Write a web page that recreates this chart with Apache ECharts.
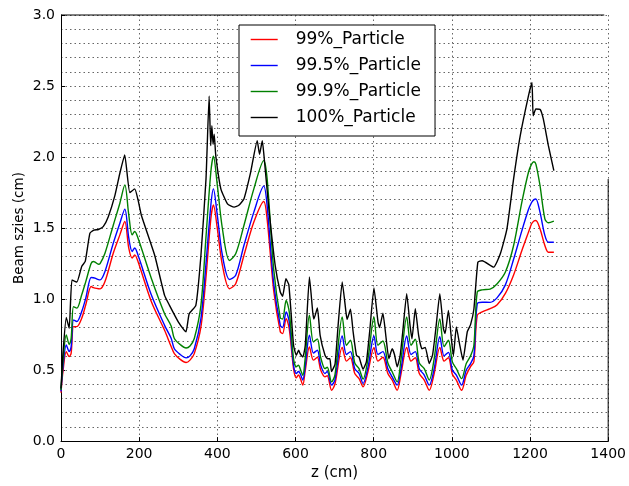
<!DOCTYPE html>
<html>
<head>
<meta charset="utf-8">
<script src="https://cdn.jsdelivr.net/npm/echarts@6/dist/echarts.min.js"></script>
<style>
html,body{margin:0;padding:0;background:#fff;}
#c{width:629px;height:486px;}
</style>
</head>
<body>
<div id="c"></div>
<script>
// z positions (cm) for the 100% curve
const zBlack = [0,5,13.5,21,28,40.6,53,62,74,84,95.6,108,121,138,150.6,163,176,188.7,197,205.6,239.5,265,277.6,300,315.6,320,328,345,358,371,379,383,386,389,392,396,409,426,443,455,468,485,502,508,515,519,531,548,561,567,575.5,583,595,602,608,612,619,625,635.6,644,647,656,663,675.5,682,688,692,701,709,719.5,729,732,740.6,747.4,756,762.6,772.8,781.3,789.7,800.7,811,815,823.6,832,838.8,847.3,853.2,860,867.6,874.4,884.5,893,898,906.5,915,923.5,931.9,942.1,950.6,959,969.2,978.5,982.7,991.2,999.6,1003.9,1011.5,1020,1028.4,1039.5,1047.9,1056.4,1066.6,1077.6,1107,1124,1141,1158,1175,1196,1205,1208,1215,1226,1234,1247,1261];
const black = [0.37,0.62,0.87,0.795,1.135,1.12,1.23,1.265,1.464,1.485,1.49,1.51,1.58,1.73,1.886,2.015,1.75,1.776,1.70,1.59,1.31,1.026,0.956,0.84,0.78,0.77,0.897,0.956,1.307,1.846,2.43,2.08,2.22,2.09,2.16,2.01,1.776,1.67,1.647,1.66,1.705,1.89,2.115,2.02,2.115,2.02,1.66,1.237,1.05,1.02,1.143,1.1,0.675,0.604,0.64,0.615,0.593,0.675,1.155,0.91,0.86,0.937,0.745,0.604,0.58,0.58,0.49,0.54,0.815,1.12,0.91,0.857,0.928,0.77,0.604,0.59,0.506,0.557,0.77,1.078,0.84,0.80,0.9,0.72,0.58,0.65,0.61,0.523,0.6,0.77,1.038,0.815,0.72,0.933,0.745,0.65,0.66,0.546,0.605,0.79,1.038,0.79,0.757,0.92,0.698,0.6,0.804,0.68,0.57,0.77,0.82,0.93,1.26,1.27,1.225,1.319,1.495,1.846,2.15,2.43,2.525,2.29,2.338,2.335,2.268,2.08,1.904];

// z positions (cm) shared by the 99%, 99.5% and 99.9% curves
const zBand = [0,5,13.5,21,26,32,40.6,53,63.4,77,83,87,96,100,112.5,133.7,150.6,163.3,173.4,182,188.7,197,231,265,281.8,290,305,320,330,341,358,370.6,383.3,390,400,413,431,447,468,493.4,518.8,527.3,544.2,561.1,567,576,584,595,601.8,607.7,611.9,618.7,624.6,635.6,645.8,655.9,664.4,675.4,681.3,692.3,700.8,719.5,730.4,740.6,751.6,762.6,772.8,785.5,800.7,810.9,823.6,836.3,847.3,860,870.1,884.5,895.5,906.5,916.7,929.4,942.1,954.8,969.2,980.2,991.2,1001.3,1011.5,1025,1036.9,1047.9,1056.4,1065,1077.6,1098,1116,1137,1158,1179,1196,1204,1210,1215,1225.5,1238,1247,1261];
const green = [0.36,0.56,0.748,0.68,0.724,0.947,0.936,1.03,1.123,1.25,1.264,1.26,1.245,1.25,1.323,1.52,1.675,1.804,1.593,1.452,1.476,1.43,1.147,0.897,0.81,0.722,0.68,0.656,0.67,0.722,0.956,1.424,1.893,2.005,1.8,1.495,1.272,1.319,1.518,1.776,1.975,1.85,1.21,0.868,0.86,0.99,0.91,0.58,0.523,0.535,0.51,0.464,0.58,0.886,0.698,0.72,0.59,0.51,0.52,0.417,0.464,0.874,0.675,0.71,0.55,0.51,0.436,0.58,0.874,0.675,0.705,0.55,0.488,0.417,0.58,0.874,0.675,0.717,0.55,0.51,0.43,0.58,0.86,0.665,0.71,0.558,0.51,0.44,0.546,0.60,0.675,1.05,1.065,1.07,1.108,1.19,1.377,1.68,1.893,1.95,1.967,1.95,1.80,1.565,1.537,1.549];
const blue = [0.35,0.52,0.677,0.63,0.666,0.853,0.842,0.912,1.006,1.152,1.15,1.147,1.137,1.135,1.194,1.393,1.534,1.633,1.43,1.335,1.36,1.31,1.03,0.815,0.724,0.65,0.61,0.586,0.60,0.65,0.862,1.237,1.659,1.776,1.588,1.307,1.138,1.167,1.377,1.612,1.795,1.66,1.11,0.815,0.80,0.909,0.84,0.535,0.476,0.49,0.476,0.43,0.52,0.745,0.62,0.64,0.535,0.476,0.49,0.394,0.43,0.74,0.61,0.63,0.51,0.476,0.405,0.52,0.74,0.61,0.63,0.51,0.452,0.394,0.51,0.74,0.61,0.63,0.51,0.465,0.394,0.51,0.735,0.60,0.625,0.5,0.465,0.394,0.5,0.546,0.6,0.968,0.978,0.977,1.01,1.10,1.28,1.48,1.63,1.68,1.70,1.705,1.612,1.448,1.40,1.40];
const red = [0.34,0.49,0.63,0.595,0.62,0.806,0.806,0.865,0.96,1.088,1.08,1.077,1.073,1.072,1.123,1.323,1.452,1.546,1.358,1.288,1.311,1.264,0.983,0.78,0.666,0.616,0.575,0.553,0.57,0.616,0.804,1.143,1.565,1.663,1.495,1.237,1.073,1.108,1.307,1.542,1.687,1.565,1.06,0.77,0.757,0.862,0.79,0.51,0.445,0.465,0.445,0.394,0.49,0.663,0.57,0.59,0.5,0.452,0.46,0.358,0.4,0.66,0.563,0.587,0.476,0.44,0.382,0.49,0.66,0.563,0.59,0.476,0.43,0.358,0.476,0.66,0.563,0.587,0.476,0.43,0.358,0.476,0.66,0.563,0.587,0.47,0.43,0.358,0.465,0.525,0.56,0.886,0.91,0.932,0.96,1.04,1.17,1.34,1.47,1.53,1.55,1.553,1.495,1.377,1.33,1.33];

const seriesNames = ['99%_Particle','99.5%_Particle','99.9%_Particle','100%_Particle'];
const seriesColors = ['#ff0000','#0000ff','#008000','#000000'];
const xTicks = [0,200,400,600,800,1000,1200,1400];

function zip(xs, ys){ return xs.map((x,i)=>[x, ys[i]]); }
const dataSets = [zip(zBand, red), zip(zBand, blue), zip(zBand, green), zip(zBlack, black)];

const FONT = 'DejaVu Sans';
const chart = echarts.init(document.getElementById('c'), null, {renderer:'canvas'});
const dotted = {color:'#666', width:1, type:[1.5,3]};

chart.setOption({
  animation:false,
  backgroundColor:'#fff',
  textStyle:{fontFamily:FONT},
  grid:{left:61, right:17, top:15, bottom:43, containLabel:false},
  xAxis:{
    type:'value', min:0, max:1400, interval:200,
    name:'z (cm)', nameLocation:'middle', nameGap:24,
    nameTextStyle:{fontFamily:FONT, fontSize:15, color:'#000'},
    axisLine:{show:true, onZero:false, lineStyle:{color:'#000', width:1}},
    axisTick:{show:true, inside:true, length:4, lineStyle:{color:'#000'}},
    axisLabel:{show:true, color:'#000', fontFamily:FONT, fontSize:14, margin:6,
      formatter:(v)=> xTicks.includes(v) ? String(v) : ''},
    splitLine:{show:true, lineStyle:dotted}
  },
  yAxis:{
    type:'value', min:0, max:3, interval:0.5,
    name:'Beam szies (cm)', nameLocation:'middle', nameGap:35, nameMoveOverlap:false,
    nameTextStyle:{fontFamily:FONT, fontSize:13.5, color:'#000'},
    axisLine:{show:true, onZero:false, lineStyle:{color:'#000', width:1}},
    axisTick:{show:true, inside:true, length:4, lineStyle:{color:'#000'}},
    axisLabel:{show:true, color:'#000', fontFamily:FONT, fontSize:14, margin:6,
      formatter:(v)=> v.toFixed(1)},
    splitLine:{show:true, lineStyle:dotted},
    minorTick:{show:false, splitNumber:5},
    minorSplitLine:{show:true, lineStyle:dotted}
  },
  legend:{
    show:true, orient:'vertical', left:239, top:25,
    padding:[6,14,10,11],
    itemWidth:27, itemHeight:17, itemGap:9,
    backgroundColor:'#fff', borderColor:'#000', borderWidth:1, borderRadius:0,
    textStyle:{fontFamily:FONT, fontSize:17, color:'#000', lineHeight:17, padding:[0,0,0,13]},
    lineStyle:{width:1.4},
    itemStyle:{opacity:0, borderWidth:0},
    data:seriesNames
  },
  series: dataSets.map((d,i)=>({
    name:seriesNames[i], type:'line', data:d,
    symbol:'none', showSymbol:false,
    smooth: i===3 ? 0.15 : 0.3,
    lineStyle:{color:seriesColors[i], width:1.4},
    itemStyle:{color:seriesColors[i]},
    z: 2+i
  }))
});

// top spine and (partial) right spine, as in the reference
function spines(){
  const p0 = chart.convertToPixel({gridIndex:0}, [0,3]);
  const p1 = chart.convertToPixel({gridIndex:0}, [1390,3]);
  const r0 = chart.convertToPixel({gridIndex:0}, [1400,1.845]);
  const r1 = chart.convertToPixel({gridIndex:0}, [1400,0]);
  chart.setOption({graphic:[
    {type:'line', shape:{x1:p0[0], y1:p0[1], x2:p1[0], y2:p1[1]}, style:{stroke:'#000', lineWidth:1}, z:10},
    {type:'line', shape:{x1:r0[0], y1:r0[1], x2:r1[0], y2:r1[1]+0.5}, style:{stroke:'#000', lineWidth:1}, z:10}
  ]});
}
spines();
</script>
</body>
</html>
